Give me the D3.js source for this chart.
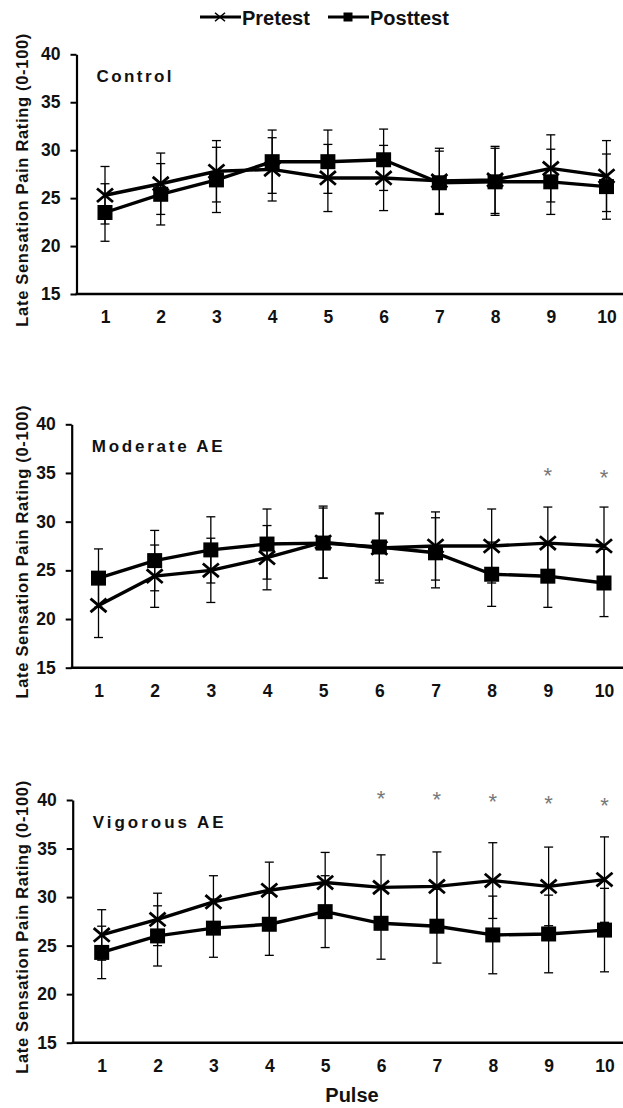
<!DOCTYPE html>
<html>
<head>
<meta charset="utf-8">
<script src="https://cdn.jsdelivr.net/npm/d3@7"></script>
<style>
  body { margin: 0; background: #fff; }
  svg { display: block; font-family: "Liberation Sans", Arial, sans-serif; }
  .tick text { font-size: 17.5px; font-weight: bold; fill: #111; }
  .axis path, .axis line { stroke: #000; }
</style>
</head>
<body>
<div id="chart"></div>
<script>
// pulses on the x axis
var pulses = [1, 2, 3, 4, 5, 6, 7, 8, 9, 10];
var yTicks = [15, 20, 25, 30, 35, 40];

// Control group
var controlPre      = [25.3, 26.5, 27.8, 28.0, 27.1, 27.1, 26.8, 26.9, 28.1, 27.3];
var controlPreErr   = [3.0, 3.2, 3.2, 3.3, 3.5, 3.4, 3.4, 3.5, 3.5, 3.7];
var controlPost     = [23.5, 25.4, 26.9, 28.8, 28.8, 29.0, 26.6, 26.7, 26.7, 26.2];
var controlPostErr  = [3.0, 3.2, 3.4, 3.3, 3.3, 3.2, 3.3, 3.5, 3.4, 3.4];
var controlStars    = [];

// Moderate AE group
var moderatePre     = [21.4, 24.4, 25.0, 26.3, 27.9, 27.3, 27.5, 27.5, 27.8, 27.5];
var moderatePreErr  = [3.3, 3.2, 3.3, 3.3, 3.7, 3.6, 3.5, 3.8, 3.7, 4.0];
var moderatePost    = [24.2, 26.0, 27.1, 27.7, 27.8, 27.4, 26.8, 24.6, 24.4, 23.7];
var moderatePostErr = [3.0, 3.1, 3.4, 3.6, 3.6, 3.4, 3.6, 3.3, 3.2, 3.45];
var moderateStars   = [{pulse: 9, y: 35.2}, {pulse: 10, y: 35.0}];

// Vigorous AE group
var vigorousPre     = [26.1, 27.7, 29.5, 30.7, 31.5, 31.0, 31.1, 31.7, 31.1, 31.8];
var vigorousPreErr  = [2.6, 2.7, 2.7, 2.9, 3.1, 3.35, 3.55, 3.9, 4.05, 4.4];
var vigorousPost    = [24.3, 26.0, 26.8, 27.2, 28.5, 27.3, 27.0, 26.1, 26.2, 26.6];
var vigorousPostErr = [2.7, 3.1, 3.0, 3.2, 3.7, 3.7, 3.8, 4.0, 4.0, 4.3];
var vigorousStars   = [{pulse: 6, y: 40.6}, {pulse: 7, y: 40.5}, {pulse: 8, y: 40.3},
                       {pulse: 9, y: 40.1}, {pulse: 10, y: 39.9}];

var groupNames = ["Control", "Moderate AE", "Vigorous AE"];
var yTitle = "Late Sensation Pain Rating (0-100)";

// panel placement on the page
var panels = [
    {name: groupNames[0], pre: controlPre, preErr: controlPreErr, post: controlPost, postErr: controlPostErr,
     stars: controlStars, axisX: 76.5, x1: 105, x10: 606.5, top: 54.3, bottom: 294},
    {name: groupNames[1], pre: moderatePre, preErr: moderatePreErr, post: moderatePost, postErr: moderatePostErr,
     stars: moderateStars, axisX: 71.7, x1: 98.5, x10: 604, top: 424.3, bottom: 667.7},
    {name: groupNames[2], pre: vigorousPre, preErr: vigorousPreErr, post: vigorousPost, postErr: vigorousPostErr,
     stars: vigorousStars, axisX: 72.7, x1: 101.7, x10: 604.5, top: 800, bottom: 1042.7}
];

var width = 623, height = 1108;

var svg = d3.select("#chart").append("svg")
    .attr("width", width)
    .attr("height", height);

function crossPath(s) {
    var h = s / 2;
    return "M" + (-h) + "," + (-h * 0.85) + "L" + h + "," + (h * 0.85) +
           "M" + (-h) + "," + (h * 0.85) + "L" + h + "," + (-h * 0.85);
}

panels.forEach(function(p, idx) {
    var x = d3.scalePoint().domain(pulses).range([p.x1, p.x10]);
    var y = d3.scaleLinear().domain([15, 40]).range([p.bottom, p.top]);
    var g = svg.append("g");

    // y axis
    var yAxis = g.append("g")
        .attr("class", "axis")
        .attr("transform", "translate(" + p.axisX + ",0)")
        .call(d3.axisLeft(y).tickValues(yTicks).tickSizeInner(6).tickSizeOuter(0).tickPadding(10));
    yAxis.select(".domain").attr("stroke-width", 2.2);
    yAxis.selectAll(".tick line").attr("stroke-width", 2);

    // x axis, runs off the right edge like the original
    var xAxis = g.append("g")
        .attr("class", "axis")
        .attr("transform", "translate(0," + p.bottom + ")")
        .call(d3.axisBottom(x).tickSize(0).tickPadding(17));
    xAxis.select(".domain").remove();
    g.append("line")
        .attr("x1", p.axisX - 1).attr("x2", width)
        .attr("y1", p.bottom).attr("y2", p.bottom)
        .attr("stroke", "#000").attr("stroke-width", 2.6);

    // y title
    var cy = (p.top + p.bottom) / 2 + 6;
    g.append("text")
        .attr("transform", "translate(22," + cy + ") rotate(-90)")
        .attr("text-anchor", "middle")
        .attr("dy", "0.36em")
        .attr("textLength", 293)
        .attr("lengthAdjust", "spacing")
        .style("font-size", "16.5px")
        .style("font-weight", "bold")
        .attr("fill", "#111")
        .text(yTitle);

    // panel title
    g.append("text")
        .attr("x", p.axisX + 20)
        .attr("y", p.top + 28)
        .attr("textLength", p.name.length > 8 ? 131 : 75)
        .attr("lengthAdjust", "spacing")
        .style("font-size", "17px")
        .style("font-weight", "bold")
        .attr("fill", "#111")
        .text(p.name);

    var series = [
        {vals: p.pre, err: p.preErr, kind: "pre"},
        {vals: p.post, err: p.postErr, kind: "post"}
    ];

    // error bars
    series.forEach(function(s) {
        var eb = g.append("g").selectAll("g").data(pulses).enter().append("g");
        eb.append("line")
            .attr("x1", function(d) { return x(d); })
            .attr("x2", function(d) { return x(d); })
            .attr("y1", function(d, i) { return y(s.vals[i] + s.err[i]); })
            .attr("y2", function(d, i) { return y(s.vals[i] - s.err[i]); })
            .attr("stroke", "#000").attr("stroke-width", 1.3);
        [1, -1].forEach(function(sign) {
            eb.append("line")
                .attr("x1", function(d) { return x(d) - 4.5; })
                .attr("x2", function(d) { return x(d) + 4.5; })
                .attr("y1", function(d, i) { return y(s.vals[i] + sign * s.err[i]); })
                .attr("y2", function(d, i) { return y(s.vals[i] + sign * s.err[i]); })
                .attr("stroke", "#000").attr("stroke-width", 1.3);
        });
    });

    // lines
    var line = d3.line()
        .x(function(d) { return x(d[0]); })
        .y(function(d) { return y(d[1]); });
    series.forEach(function(s) {
        g.append("path")
            .datum(pulses.map(function(d, i) { return [d, s.vals[i]]; }))
            .attr("d", line)
            .attr("fill", "none")
            .attr("stroke", "#000")
            .attr("stroke-width", 3.4)
            .attr("stroke-linejoin", "round");
    });

    // markers
    g.append("g").selectAll("path").data(pulses).enter().append("path")
        .attr("transform", function(d, i) { return "translate(" + x(d) + "," + y(p.pre[i]) + ")"; })
        .attr("d", crossPath(16))
        .attr("stroke", "#000").attr("stroke-width", 2.8).attr("fill", "none");
    g.append("g").selectAll("rect").data(pulses).enter().append("rect")
        .attr("x", function(d) { return x(d) - 7.5; })
        .attr("y", function(d, i) { return y(p.post[i]) - 7.5; })
        .attr("width", 15).attr("height", 15)
        .attr("fill", "#000");

    // significance stars
    g.append("g").selectAll("text").data(p.stars).enter().append("text")
        .attr("x", function(d) { return x(d.pulse); })
        .attr("y", function(d) { return y(d.y) + 12; })
        .attr("text-anchor", "middle")
        .style("font-size", "22px")
        .attr("fill", "#777")
        .text("*");

    if (idx == panels.length - 1) {
        g.append("text")
            .attr("x", 352)
            .attr("y", 1102)
            .attr("text-anchor", "middle")
            .style("font-size", "20px")
            .style("font-weight", "bold")
            .attr("fill", "#111")
            .text("Pulse");
    }
});

// legend
var legend = svg.append("g");
legend.append("line").attr("x1", 200).attr("x2", 241).attr("y1", 17).attr("y2", 17)
    .attr("stroke", "#000").attr("stroke-width", 3);
legend.append("path").attr("transform", "translate(220,17)").attr("d", crossPath(10))
    .attr("stroke", "#000").attr("stroke-width", 1.6).attr("fill", "none");
legend.append("text").attr("x", 242).attr("y", 24.5)
    .style("font-size", "20px").style("font-weight", "bold").attr("fill", "#111")
    .text("Pretest");
legend.append("line").attr("x1", 328).attr("x2", 369).attr("y1", 17).attr("y2", 17)
    .attr("stroke", "#000").attr("stroke-width", 3);
legend.append("rect").attr("x", 343.5).attr("y", 12.5).attr("width", 9).attr("height", 9)
    .attr("fill", "#000");
legend.append("text").attr("x", 370).attr("y", 24.5)
    .style("font-size", "20px").style("font-weight", "bold").attr("fill", "#111")
    .text("Posttest");
</script>
</body>
</html>
